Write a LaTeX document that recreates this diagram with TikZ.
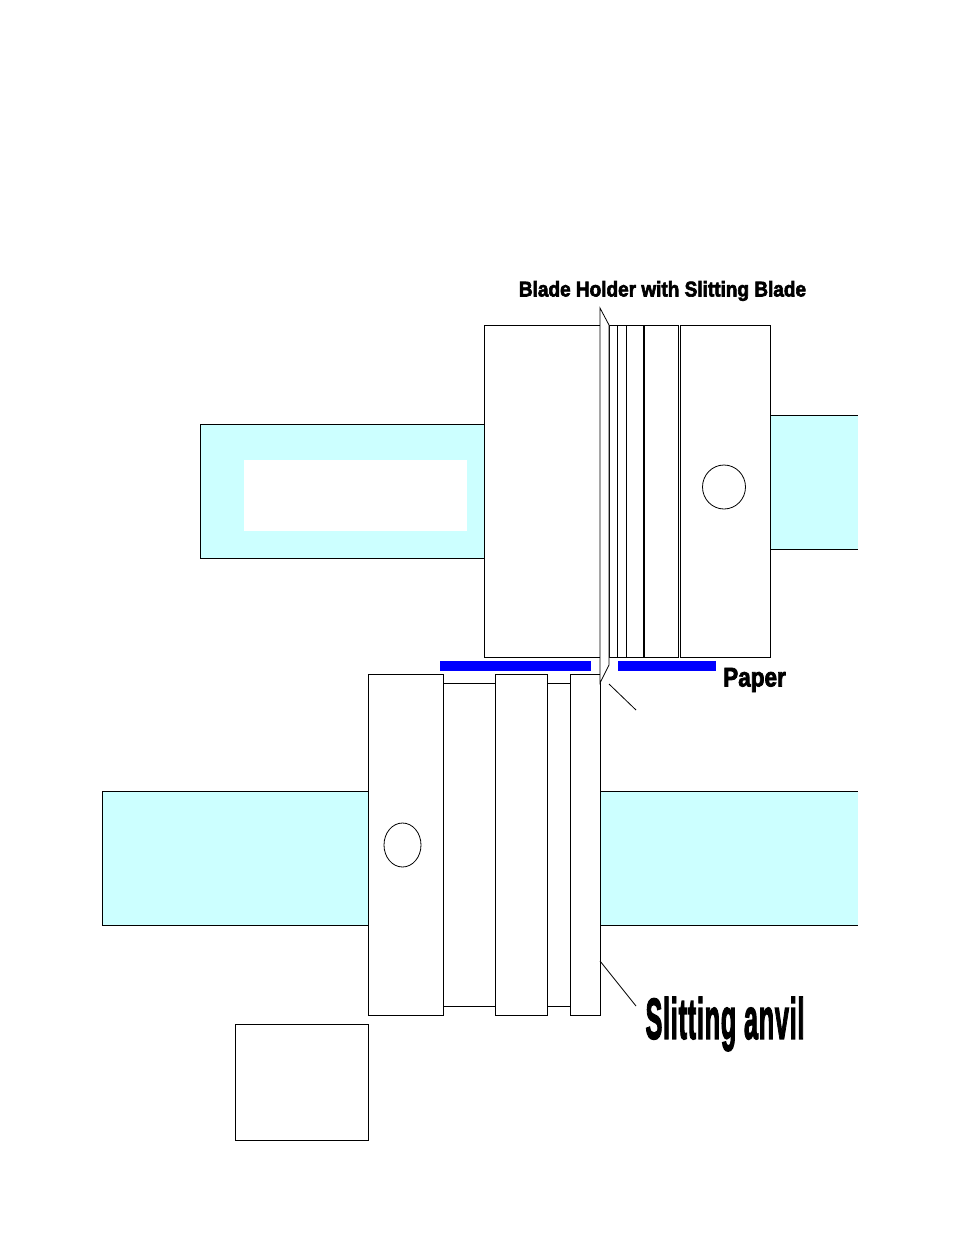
\documentclass[tikz,border=0pt]{standalone}
\usepackage{fontspec}
\newfontfamily\labelfont[FakeBold=3]{Liberation Sans Bold}
\newfontfamily\anvilfont[FakeBold=3,LetterSpace=3]{Liberation Sans Bold}
\usepackage{tikz}
\usetikzlibrary{positioning,calc,shapes.geometric}
\definecolor{shaftcyan}{HTML}{CCFFFF}
\definecolor{paperblue}{HTML}{0000FF}
\tikzset{
  part/.style={draw,fill=white,line width=0.8pt,anchor=north west,inner sep=0pt,outer sep=0pt},
  shaft/.style={fill=shaftcyan,draw=none,anchor=north west,inner sep=0pt,outer sep=0pt},
  paper/.style={fill=paperblue,draw=none,anchor=north west,inner sep=0pt,outer sep=0pt,minimum height=10pt},
  edgeline/.style={line width=0.8pt},
  pin/.style={draw,fill=white,ellipse,line width=0.8pt,inner sep=0pt,outer sep=0pt},
  callout/.style={inner sep=0pt,outer sep=0pt,text=black}
}
\begin{document}
\begin{tikzpicture}[x=1pt,y=-1pt]
  \useasboundingbox (0,0) rectangle (954,1235);
  % shafts behind the blocks
  \node[shaft,draw,line width=0.8pt,minimum width=284pt,minimum height=134pt] (upperleft) at (200,424) {};
  \node[fill=white,anchor=north west,inner sep=0pt,minimum width=223pt,minimum height=71pt] (window) at (244,460) {};
  \node[shaft,minimum width=88pt,minimum height=134pt] (upperright) at (770,415) {};
  \node[shaft,draw,line width=0.8pt,minimum width=266pt,minimum height=134pt] (lowerleft) at (102,791) {};
  \node[shaft,minimum width=258pt,minimum height=134pt] (lowerright) at (600,791) {};
  \draw[edgeline] (upperright.north west) -- (upperright.north east);
  \draw[edgeline] (upperright.south west) -- (upperright.south east);
  \draw[edgeline] (lowerright.north west) -- (lowerright.north east);
  \draw[edgeline] (lowerright.south west) -- (lowerright.south east);
  % upper blade holder
  \node[part,minimum width=116pt,minimum height=332pt] (holder) at (484,325) {};
  \node[part,minimum width=8pt,minimum height=332pt] (shimA) at (609,325) {};
  \node[part,minimum width=9pt,minimum height=332pt] (shimB) at (617,325) {};
  \node[part,minimum width=18pt,minimum height=332pt] (shimC) at (626,325) {};
  \node[part,minimum width=34.6pt,minimum height=332pt] (shimD) at (644,325) {};
  \draw[line width=1.4pt] (shimD.north west) -- (shimD.south west);
  \node[part,minimum width=90pt,minimum height=332pt] (clamp) at (680,325) {};
  \node[pin,minimum width=43pt,minimum height=44pt] (clampbolt) at (724,487) {};
  % paper
  \node[paper,minimum width=151pt] (paperL) at (440,661) {};
  \node[paper,minimum width=98pt] (paperR) at (618,661) {};
  % lower anvil
  \node[part,minimum width=75pt,minimum height=341pt] (collar) at (368,674) {};
  \node[part,minimum width=52pt,minimum height=323pt] (spacerA) at (443,683) {};
  \node[part,minimum width=52pt,minimum height=341pt] (ring) at (495,674) {};
  \node[part,minimum width=23pt,minimum height=323pt] (spacerB) at (547,683) {};
  \node[part,minimum width=30pt,minimum height=341pt] (anvil) at (570,674) {};
  \node[pin,minimum width=37pt,minimum height=44pt] (collarbolt) at (402.5,845) {};
  \node[part,minimum width=133pt,minimum height=116pt] (base) at (235,1024) {};
  % the blade sits over the holder and the anvil
  \draw[draw,fill=white,line width=0.8pt] (600,308) -- (609,325) -- (609,665) -- (600,683) -- cycle;
  % labels
  \node[callout,font=\fontsize{19}{24}\labelfont,yscale=1.12] (bladelabel) at (662.5,291) {Blade Holder with Slitting Blade};
  \node[callout,font=\fontsize{24}{28}\labelfont,xscale=0.94,yscale=1.12] (paperlabel) at (754.5,680) {Paper};
  \node[callout,font=\fontsize{35}{40}\anvilfont,xscale=0.72,yscale=1.65] (anvillabel) at (725,1024) {Slitting anvil};
  % leader lines
  \coordinate (tipend) at (636,710);
  \coordinate (tipstart) at (609,684);
  \coordinate (anvilstart) at (600,961);
  \coordinate (anvilend) at (636,1006);
  \draw[edgeline] (tipstart) -- (tipend);
  \draw[edgeline] (anvilstart) -- (anvilend);
\end{tikzpicture}
\end{document}
